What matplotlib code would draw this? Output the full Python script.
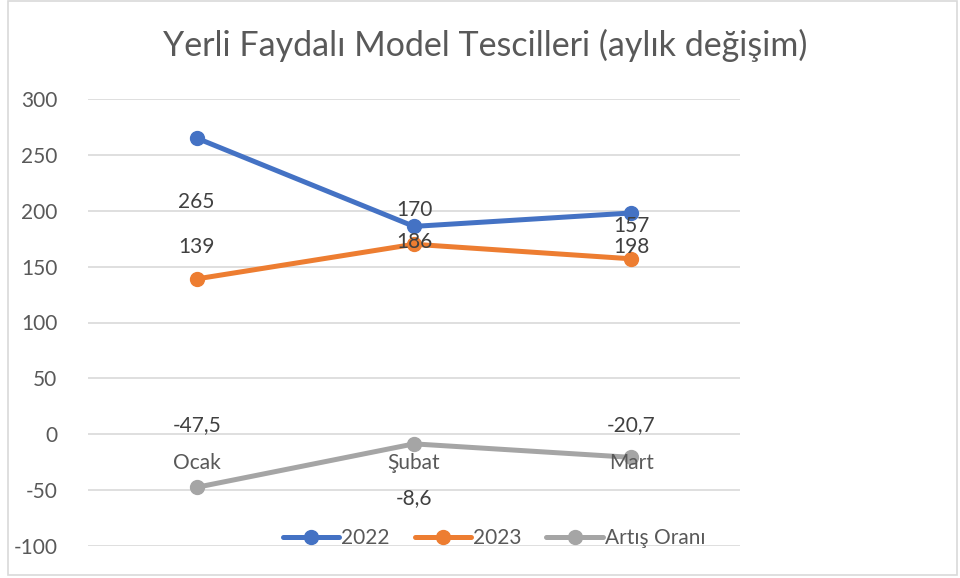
import matplotlib.pyplot as plt
from matplotlib.patches import Rectangle

plt.rcParams['font.family'] = ['Lato', 'DejaVu Sans']
plt.rcParams['axes.unicode_minus'] = False

months = ['Ocak', 'Şubat', 'Mart']
y2022 = [265, 186, 198]
y2023 = [139, 170, 157]
artis = [-47.5, -8.6, -20.7]
series_names = ['2022', '2023', 'Artış Oranı']
colors = ['#4472C4', '#ED7D31', '#A5A5A5']

# where Excel dropped the data labels (y in data units), per series
label_y = [[208, 172, 168],
           [168, 201, 186],
           [8, -57, 8]]

text_color = '#595959'
fs = 15

fig = plt.figure(figsize=(9.6, 5.78), dpi=100)
ax = fig.add_axes([88 / 960, 1 - 546 / 578, 652 / 960, 447 / 578])

x = range(len(months))
for vals, name, c, ly in zip([y2022, y2023, artis], series_names, colors, label_y):
    ax.plot(x, vals, color=c, lw=3.6, marker='o', ms=10, label=name,
            solid_capstyle='round', zorder=3)
    for i, v in enumerate(vals):
        s = ('%g' % v).replace('.', ',')
        ax.text(i, ly[i], s, ha='center', va='center', fontsize=fs,
                color='#404040', zorder=4)

ax.set_xlim(-0.5, 2.5)
ax.set_ylim(-100, 300)
ax.set_yticks(range(-100, 301, 50))
ax.grid(axis='y', color='#D9D9D9', lw=1.2)
ax.set_axisbelow(True)
for sp in ax.spines.values():
    sp.set_visible(False)
ax.tick_params(axis='y', length=0, pad=22, labelsize=fs, labelcolor=text_color)

# category labels sit on the zero line
ax.set_xticks([])
for i, m in enumerate(months):
    ax.annotate(m, (i, 0), xytext=(0, -21), textcoords='offset points',
                ha='center', va='center', fontsize=fs, color=text_color)

fig.text(485 / 960, 1 - 45 / 578, 'Yerli Faydalı Model Tescilleri (aylık değişim)',
         ha='center', va='center', fontsize=24.5, color=text_color)

fig.legend(loc='center', bbox_to_anchor=(494 / 960, 1 - 538 / 578), ncol=3,
           frameon=False, fontsize=fs, labelcolor=text_color, handlelength=2.7,
           handletextpad=0.1, columnspacing=1.2)

fig.patches.append(Rectangle((8 / 960, 3 / 578), 949 / 960, 574 / 578,
                             transform=fig.transFigure, fill=False,
                             edgecolor='#D9D9D9', lw=1.2))

plt.savefig('out.png')
